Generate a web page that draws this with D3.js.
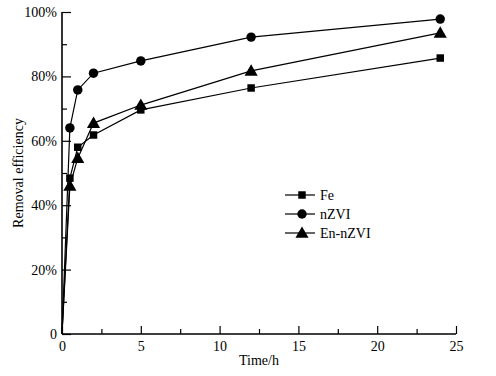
<!DOCTYPE html>
<html>
<head>
<meta charset="utf-8">
<script src="https://cdn.jsdelivr.net/npm/d3@7"></script>
<style>
  body { margin: 0; background: #fff; }
  text { font-family: "Liberation Serif", "Times New Roman", serif; fill: #000; }
</style>
</head>
<body>
<div class="chart"></div>
<script>
// sampling times (h) and removal efficiency (%)
const times = [0, 0.5, 1, 2, 5, 12, 24]
const fe = [0, 48.4, 58, 61.8, 69.6, 76.4, 85.7]
const nzvi = [0, 64, 75.8, 81, 84.8, 92.2, 97.8]
const enNzvi = [0, 46, 54.6, 65.5, 71.1, 81.7, 93.5]
const seriesNames = ['Fe', 'nZVI', 'En-nZVI']
const xTicks = [0, 5, 10, 15, 20, 25]
const yTicks = [0, 20, 40, 60, 80, 100]

const width = 496
const height = 376
const margin = {top: 12, right: 40, bottom: 42, left: 62}
const fontSize = '14px'

const svg = d3.select('.chart').append('svg')
  .attr('width', width)
  .attr('height', height)

const x = d3.scaleLinear()
  .domain([0, 25])
  .range([margin.left, width - margin.right])

const y = d3.scaleLinear()
  .domain([0, 100])
  .range([height - margin.bottom, margin.top])

// minor ticks (inward)
svg.append('g')
  .attr('transform', `translate(0, ${y(0)})`)
  .call(d3.axisTop(x).tickValues(d3.range(2.5, 25, 5)).tickSize(5).tickFormat(''))
  .call(g => g.select('.domain').remove())
svg.append('g')
  .attr('transform', `translate(${x(0)}, 0)`)
  .call(d3.axisRight(y).tickValues(d3.range(10, 100, 20)).tickSize(5).tickFormat(''))
  .call(g => g.select('.domain').remove())

// x axis with inward ticks
const xAxis = svg.append('g')
  .attr('transform', `translate(0, ${y(0)})`)
  .call(d3.axisTop(x).tickValues(xTicks).tickSize(8).tickSizeOuter(0))
xAxis.select('.domain').remove()
xAxis.selectAll('text')
  .attr('y', 0).attr('dy', '1em')
  .attr('transform', 'translate(0, 3)')
  .style('font-size', fontSize)
  .style('font-family', 'Liberation Serif')

// y axis with inward ticks
const yAxis = svg.append('g')
  .attr('transform', `translate(${x(0)}, 0)`)
  .call(d3.axisRight(y).tickValues(yTicks).tickSize(9)
    .tickFormat(d => d === 0 ? '0' : d + '%'))
yAxis.select('.domain').remove()
yAxis.selectAll('text')
  .attr('x', -5)
  .attr('text-anchor', 'end')
  .style('font-size', fontSize)
  .style('font-family', 'Liberation Serif')

svg.selectAll('.tick line').attr('stroke', '#000').attr('stroke-width', 1.2)

// axis lines
svg.append('line')
  .attr('x1', x(0)).attr('x2', x(25))
  .attr('y1', y(0)).attr('y2', y(0))
  .attr('stroke', '#000').attr('stroke-width', 1.6)
svg.append('line')
  .attr('x1', x(0)).attr('x2', x(0))
  .attr('y1', y(0)).attr('y2', y(100))
  .attr('stroke', '#000').attr('stroke-width', 1.6)

// axis titles
svg.append('text')
  .attr('x', (x(0) + x(25)) / 2)
  .attr('y', height - 11)
  .attr('text-anchor', 'middle')
  .style('font-size', fontSize)
  .text('Time/h')

svg.append('text')
  .attr('transform', `translate(23, ${y(50)}) rotate(-90)`)
  .attr('text-anchor', 'middle')
  .style('font-size', fontSize)
  .text('Removal efficiency')

const line = d3.line()
  .x(d => x(d[0]))
  .y(d => y(d[1]))

const symbols = [d3.symbolSquare, d3.symbolCircle, d3.symbolTriangle]
const symSizes = [56, 70, 75]
const allSeries = [fe, nzvi, enNzvi]

allSeries.forEach((vals, i) => {
  const pts = times.map((t, j) => [t, vals[j]])
  svg.append('path')
    .datum(pts)
    .attr('fill', 'none')
    .attr('stroke', '#000')
    .attr('stroke-width', 1.2)
    .attr('d', line)
  svg.selectAll('.m' + i)
    .data(pts.slice(1))
    .enter()
    .append('path')
    .attr('class', 'm' + i)
    .attr('d', d3.symbol().type(symbols[i]).size(symSizes[i]))
    .attr('transform', d => `translate(${x(d[0])}, ${y(d[1]) + (i === 2 ? 1 : 0)})`)
    .attr('fill', '#000')
})

// legend
const legend = svg.append('g')
  .attr('transform', 'translate(285, 195)')
seriesNames.forEach((name, i) => {
  const row = legend.append('g').attr('transform', `translate(0, ${i * 19})`)
  row.append('line')
    .attr('x1', 0).attr('x2', 30)
    .attr('stroke', '#000').attr('stroke-width', 1.2)
  row.append('path')
    .attr('d', d3.symbol().type(symbols[i]).size(symSizes[i])())
    .attr('transform', `translate(17, ${i === 2 ? 1 : 0})`)
  row.append('text')
    .attr('x', 35)
    .attr('y', 5)
    .style('font-size', fontSize)
    .text(name)
})
</script>
</body>
</html>
